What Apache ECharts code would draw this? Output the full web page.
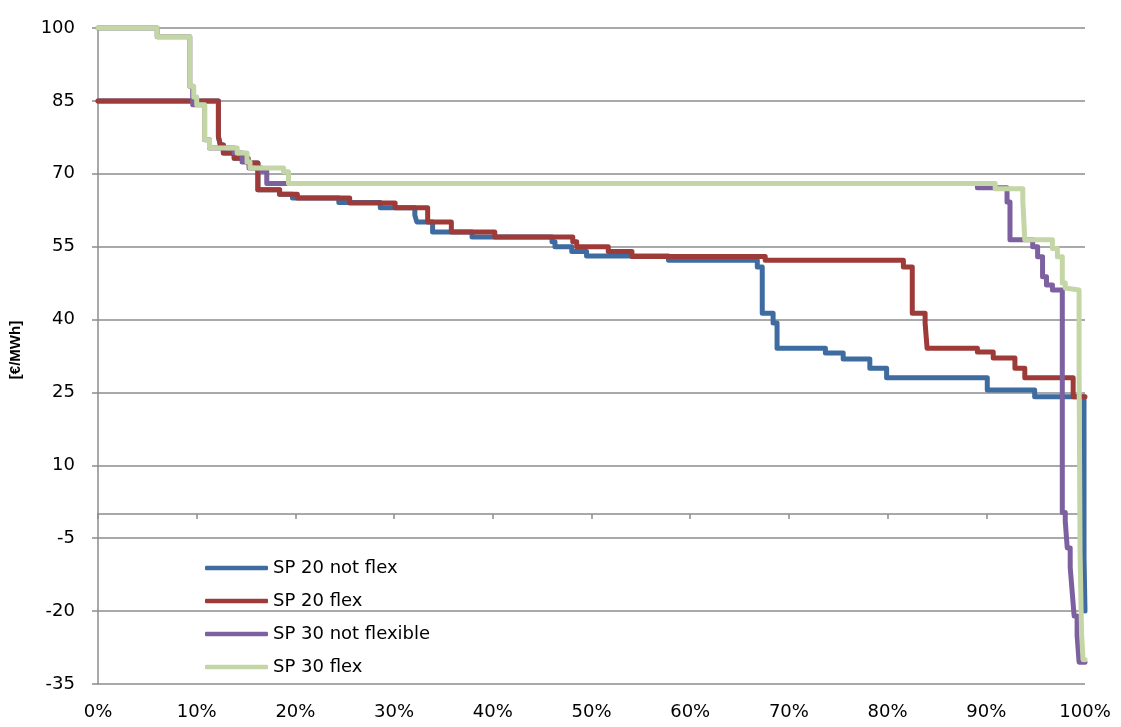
<!DOCTYPE html>
<html><head><meta charset="utf-8">
<script src="https://cdn.jsdelivr.net/npm/echarts@6/dist/echarts.min.js"></script>
<style>html,body{margin:0;padding:0;background:#fff}#c{width:1121px;height:727px}</style>
</head><body><div id="c"></div>
<script>
const seriesNames = ['SP 20 not flex', 'SP 20 flex', 'SP 30 not flexible', 'SP 30 flex'];
const seriesColors = ['#3e6ca0', '#9e3b38', '#7d60a0', '#c4d6a5'];
const xTickLabels = ['0%','10%','20%','30%','40%','50%','60%','70%','80%','90%','100%'];
const yTicks = [-35, -20, -5, 10, 25, 40, 55, 70, 85, 100];

// SP 20 not flex (x in % of time, y in €/MWh)
const sp20NotFlexX = [0, 12.2, 12.4, 12.7, 13.8, 15.2, 16.2, 18.4, 19.7, 24.4, 28.6, 32.1, 32.3, 33.9, 37.9, 46.0, 46.3, 48.0, 49.5, 57.8, 66.8, 67.3, 68.4, 68.8, 73.7, 75.5, 78.2, 79.9, 90.1, 94.9, 99.9, 100];
const sp20NotFlexY = [85, 77.6, 75.9, 74.3, 73.2, 72.2, 66.7, 65.8, 65.0, 64.1, 63.0, 61.5, 60.1, 58.0, 57.0, 56.0, 55.0, 54.0, 53.1, 52.2, 50.8, 41.3, 39.3, 34.1, 33.1, 31.9, 30.0, 28.0, 25.5, 24.1, -9, -20];

// SP 20 flex
const sp20FlexX = [0, 12.2, 12.4, 12.7, 13.8, 15.2, 16.2, 18.4, 20.2, 25.5, 30.1, 33.4, 35.8, 40.2, 48.1, 48.5, 51.7, 54.1, 67.6, 81.6, 82.5, 83.8, 84.0, 89.1, 90.7, 92.9, 93.9, 98.8, 100];
const sp20FlexY = [85, 77.6, 75.9, 74.3, 73.2, 72.2, 66.7, 65.8, 65.0, 64.0, 63.0, 60.1, 58.0, 57.0, 56.0, 55.0, 54.0, 53.0, 52.2, 50.8, 41.3, 39.3, 34.1, 33.3, 32.1, 30.0, 28.0, 24.1, 24.1];

// SP 30 not flexible
const sp30NotFlexX = [0, 6.0, 9.3, 9.6, 10.8, 11.3, 13.8, 14.6, 15.3, 16.6, 17.1, 89.1, 92.1, 92.4, 94.7, 95.2, 95.7, 96.1, 96.7, 97.7, 98.0, 98.2, 98.5, 98.7, 98.9, 99.2, 99.4, 100];
const sp30NotFlexY = [100, 98.2, 88, 84.2, 77, 75.3, 74.3, 72.4, 71.2, 70.5, 68, 67.1, 64.2, 56.4, 55, 52.9, 48.8, 47.1, 46.1, 0.3, -1.5, -7, -11, -16, -21, -25, -30.5, -30.5];

// SP 30 flex
const sp30FlexX = [0, 6.0, 9.3, 9.7, 10.0, 10.8, 11.3, 14.1, 15.1, 15.4, 18.8, 19.3, 90.9, 93.7, 93.9, 96.7, 97.2, 97.7, 98.0, 98.2, 99.4, 99.5, 99.65, 99.8, 100];
const sp30FlexY = [100, 98.2, 88, 85.8, 84.2, 77, 75.3, 74.3, 72.4, 71.2, 70.4, 68, 66.9, 64.5, 56.4, 54.6, 52.9, 47.5, 46.5, 46.1, 30, -8, -24.5, -30, -30];

const allX = [sp20NotFlexX, sp20FlexX, sp30NotFlexX, sp30FlexX];
const allY = [sp20NotFlexY, sp20FlexY, sp30NotFlexY, sp30FlexY];

const zip = (xs, ys) => xs.map((x, i) => [x, ys[i]]);
const gridGray = '#8c8c8c';
const font = 'DejaVu Sans';

const chart = echarts.init(document.getElementById('c'), null, {renderer: 'canvas'});
chart.setOption({
  animation: false,
  backgroundColor: '#fff',
  grid: {left: 98, right: 36, top: 28, bottom: 43, containLabel: false},
  legend: {
    orient: 'vertical', left: 205, top: 559, padding: 0,
    icon: 'roundRect',
    itemWidth: 63, itemHeight: 4.5, itemGap: 15,
    textStyle: {fontSize: 18, color: '#000', fontFamily: font},
    data: seriesNames
  },
  xAxis: [
    {
      type: 'value', min: 0, max: 100, interval: 10, position: 'bottom',
      axisLine: {show: false, onZero: false}, axisTick: {show: false}, splitLine: {show: false},
      axisLabel: {margin: 19, fontSize: 18, color: '#000', fontFamily: font,
        formatter: v => xTickLabels[Math.round(v / 10)]}
    },
    {
      type: 'value', min: 0, max: 100, interval: 10, position: 'top',
      axisLine: {show: true, onZero: true, lineStyle: {color: gridGray, width: 1.5}},
      axisTick: {show: true, inside: true, length: 5, lineStyle: {color: gridGray, width: 1.5}},
      axisLabel: {show: false}, splitLine: {show: false}
    }
  ],
  yAxis: {
    type: 'value', min: yTicks[0], max: yTicks[yTicks.length - 1], interval: 15,
    axisLine: {show: true, onZero: false, lineStyle: {color: gridGray, width: 1.5}},
    axisTick: {show: true, length: 6, lineStyle: {color: gridGray, width: 1.5}},
    axisLabel: {margin: 23, fontSize: 18, color: '#000', fontFamily: font},
    splitLine: {lineStyle: {color: gridGray, width: 1.5}},
    name: '[€/MWh]', nameLocation: 'middle', nameGap: 75,
    nameTextStyle: {fontSize: 15, fontWeight: 'bold', color: '#000', fontFamily: 'Liberation Sans', padding: [0, 0, 0, 12]}
  },
  series: seriesNames.map((name, i) => ({
    name, type: 'line', step: 'end', symbol: 'none', clip: false,
    xAxisIndex: 0,
    data: zip(allX[i], allY[i]),
    itemStyle: {color: seriesColors[i]},
    lineStyle: {color: seriesColors[i], width: 5, cap: 'round', join: 'round'}
  }))
});
</script></body></html>
